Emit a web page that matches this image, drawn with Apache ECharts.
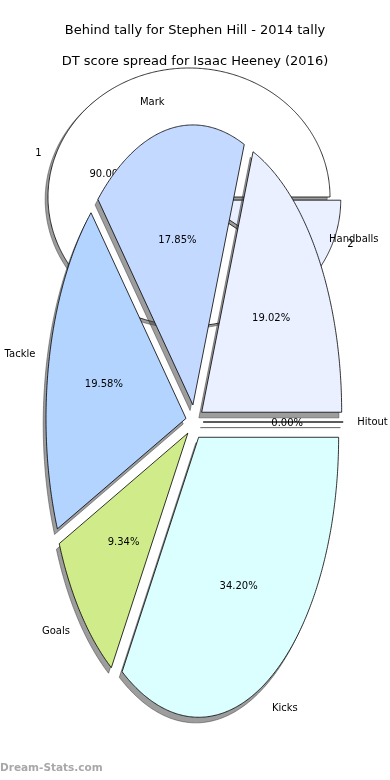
<!DOCTYPE html>
<html><head><meta charset="utf-8">
<script src="https://cdn.jsdelivr.net/npm/echarts@6/dist/echarts.min.js"></script>
<style>html,body{margin:0;padding:0;background:#fff}#c{width:390px;height:780px}</style>
</head><body><div id="c"></div>
<script>
// ---- data ----
const titleBack = 'Behind tally for Stephen Hill - 2014 tally';
const titleFront = 'DT score spread for Isaac Heeney (2016)';
const watermark = 'Dream-Stats.com';

const backCategories = ['1', '2'];
const backValues = [90, 10];
const backColors = ['#ffffff', '#eaf0ff'];
const backExplode = [0, 0.08];

const frontCategories = ['Handballs', 'Mark', 'Tackle', 'Goals', 'Kicks', 'Hitout'];
const frontValues = [19.02, 17.85, 19.58, 9.34, 34.20, 0.00];
const frontColors = ['#eaf0ff', '#c4d9ff', '#b3d4ff', '#d0ec8a', '#dbffff', '#ffffff'];
const frontExplode = [0.062, 0.062, 0.062, 0.062, 0.062, 0.062];

// ---- layout ----
const backGeo = { cx: 189, cy: 197, rx: 141, ry: 129 };
const frontGeo = { cx: 194.5, cy: 422, rx: 140, ry: 280 };
const FONT = 'DejaVu Sans';

function pieSeries(names, values, colors, explode, geo, z) {
  const total = values.reduce((a, b) => a + b, 0);
  const starts = [];
  let acc = 0;
  values.forEach(v => { starts.push(acc); acc += v; });
  return {
    type: 'custom',
    coordinateSystem: 'none',
    z: z,
    silent: true,
    animation: false,
    data: values.map((v, i) => ({ name: names[i], value: [v, starts[i]] })),
    renderItem: function (params, api) {
      const i = params.dataIndex;
      const v = api.value(0), s = api.value(1);
      const t1 = s / total * 2 * Math.PI;
      const t2 = (s + v) / total * 2 * Math.PI;
      const tm = (t1 + t2) / 2;
      const ox = geo.cx + explode[i] * geo.rx * Math.cos(tm);
      const oy = geo.cy - explode[i] * geo.ry * Math.sin(tm);
      const pts = [[ox, oy]];
      const n = Math.max(1, Math.ceil((t2 - t1) / (Math.PI / 360)));
      for (let k = 0; k <= n; k++) {
        const t = t1 + (t2 - t1) * k / n;
        pts.push([ox + geo.rx * Math.cos(t), oy - geo.ry * Math.sin(t)]);
      }
      const sdx = -0.02 * geo.rx, sdy = 0.02 * geo.ry;
      const spts = pts.map(p => [p[0] + sdx, p[1] + sdy]);
      const c = Math.cos(tm), sn = Math.sin(tm);
      const lx = ox + 1.1 * geo.rx * c, ly = oy - 1.1 * geo.ry * sn;
      const px = ox + 0.6 * geo.rx * c, py = oy - 0.6 * geo.ry * sn;
      const pct = (v / total * 100).toFixed(2) + '%';
      return {
        type: 'group',
        children: [
          { type: 'polygon', z2: 0, shape: { points: spts },
            style: { fill: 'rgba(60,60,60,0.5)', stroke: 'rgba(60,60,60,0.5)', lineWidth: 1 } },
          { type: 'polygon', z2: 5, shape: { points: pts },
            style: { fill: colors[i], stroke: '#000', lineWidth: 0.8 } },
          { type: 'text', z2: 10, x: lx, y: ly,
            style: { text: names[i], fill: '#000', fontSize: 10, fontFamily: FONT,
                     align: (lx - ox) > 0 ? 'left' : 'right', verticalAlign: 'middle' } },
          { type: 'text', z2: 10, x: px, y: py + 1,
            style: { text: pct, fill: '#000', fontSize: 10, fontFamily: FONT,
                     align: 'center', verticalAlign: 'middle' } }
        ]
      };
    }
  };
}

const chart = echarts.init(document.getElementById('c'), null, { renderer: 'canvas' });
chart.setOption({
  animation: false,
  backgroundColor: '#ffffff',
  title: [
    { text: titleBack, left: 'center', top: 24, padding: 0,
      textStyle: { fontSize: 13, fontWeight: 'normal', color: '#000', fontFamily: FONT } },
    { text: titleFront, left: 'center', top: 55, padding: 0,
      textStyle: { fontSize: 13, fontWeight: 'normal', color: '#000', fontFamily: FONT } }
  ],
  graphic: [
    { type: 'text', left: 0, top: 763, z: 10,
      style: { text: watermark, fill: '#a8a8a8', fontSize: 10.5, fontWeight: 'bold', fontFamily: FONT } }
  ],
  series: [
    pieSeries(backCategories, backValues, backColors, backExplode, backGeo, 1),
    pieSeries(frontCategories, frontValues, frontColors, frontExplode, frontGeo, 2)
  ]
});
</script></body></html>
